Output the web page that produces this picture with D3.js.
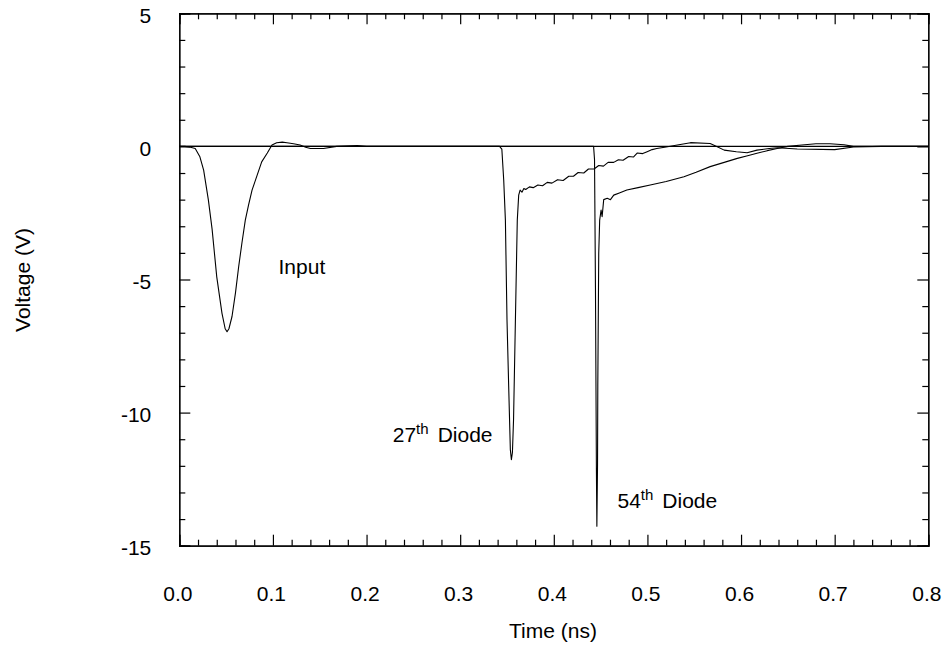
<!DOCTYPE html>
<html>
<head>
<meta charset="utf-8">
<script src="https://cdn.jsdelivr.net/npm/d3@7"></script>
<style>
  html, body { margin: 0; padding: 0; background: #fff; }
  svg { display: block; }
  text { font-family: "Liberation Sans", Arial, Helvetica, sans-serif; fill: #000; }
</style>
</head>
<body>
<svg id="chart" width="946" height="648"></svg>
<script>
// ---- data ----
const xTicks = [0.0, 0.1, 0.2, 0.3, 0.4, 0.5, 0.6, 0.7, 0.8];
const xTickLabels = ["0.0", "0.1", "0.2", "0.3", "0.4", "0.5", "0.6", "0.7", "0.8"];
const yTicks = [5, 0, -5, -10, -15];
const yTickLabels = ["5", "0", "-5", "-10", "-15"];

const inputT = [0, 0.006, 0.012, 0.017, 0.022, 0.026, 0.031, 0.035, 0.040, 0.0456, 0.049, 0.051, 0.053, 0.0563, 0.060, 0.0634, 0.067, 0.0705, 0.074, 0.0777, 0.083, 0.088, 0.094, 0.099, 0.104, 0.110, 0.115, 0.122, 0.129, 0.135, 0.140, 0.154, 0.168, 0.190, 0.200, 0.800];
const inputV = [0, 0, -0.03, -0.08, -0.39, -0.89, -2.0, -3.1, -4.9, -6.27, -6.85, -6.96, -6.85, -6.39, -5.5, -4.52, -3.6, -2.77, -2.2, -1.64, -1.1, -0.58, -0.25, 0.05, 0.14, 0.16, 0.14, 0.1, 0.05, -0.03, -0.08, -0.08, 0, 0.03, 0, 0];

const d27T = [0, 0.342, 0.3445, 0.3465, 0.3483, 0.350, 0.3518, 0.3536, 0.3547, 0.3558, 0.357, 0.359, 0.361, 0.3625, 0.364, 0.366, 0.368, 0.370, 0.374, 0.378, 0.383, 0.388, 0.393, 0.398, 0.404, 0.410, 0.416, 0.421, 0.426, 0.432, 0.437, 0.443, 0.448, 0.453, 0.458, 0.464, 0.469, 0.474, 0.480, 0.485, 0.489, 0.495, 0.4997, 0.505, 0.510, 0.520, 0.532, 0.546, 0.567, 0.574, 0.582, 0.595, 0.6065, 0.617, 0.630, 0.639, 0.660, 0.700, 0.720, 0.750, 0.800];
const d27V = [0, 0, -0.1, -1.26, -2.77, -6.5, -9.0, -11.4, -11.77, -11.5, -10.27, -6.5, -2.77, -1.83, -1.64, -1.72, -1.58, -1.62, -1.52, -1.55, -1.45, -1.48, -1.35, -1.38, -1.25, -1.28, -1.12, -1.12, -0.98, -1.0, -0.85, -0.85, -0.72, -0.74, -0.6, -0.6, -0.5, -0.52, -0.38, -0.4, -0.25, -0.27, -0.2, -0.12, -0.08, -0.02, 0.05, 0.14, 0.11, 0, -0.14, -0.2, -0.24, -0.14, -0.08, -0.05, -0.1, -0.12, -0.02, 0, 0];

const d54T = [0, 0.4425, 0.4435, 0.4445, 0.4455, 0.4460, 0.4467, 0.447, 0.448, 0.449, 0.4505, 0.4516, 0.4533, 0.4571, 0.4605, 0.464, 0.470, 0.478, 0.490, 0.503, 0.520, 0.539, 0.552, 0.567, 0.582, 0.596, 0.607, 0.617, 0.628, 0.6386, 0.650, 0.665, 0.680, 0.695, 0.710, 0.720, 0.800];
const d54V = [0, 0, -0.5, -5.3, -12.1, -14.27, -12.0, -9.0, -4.0, -2.77, -2.39, -2.64, -2.0, -1.95, -2.0, -1.83, -1.75, -1.64, -1.55, -1.45, -1.32, -1.14, -0.97, -0.76, -0.6, -0.45, -0.35, -0.26, -0.16, -0.08, 0, 0.05, 0.1, 0.1, 0.06, 0, 0];

const labels = [
  {t: 0.106, v: -4.8, main: "Input", sup: ""},
  {t: 0.228, v: -11.09, main: "27", sup: "th", rest: "Diode"},
  {t: 0.468, v: -13.6, main: "54", sup: "th", rest: "Diode"}
];

// ---- layout ----
const svg = d3.select("#chart");
const L = 179.3, R = 928.3, T = 13.3, B = 545.7;
const FS = 21;

const x = d3.scaleLinear().domain([0, 0.8]).range([L, R]);
const y = d3.scaleLinear().domain([-15, 5]).range([B, T]);

const xMinor = d3.range(0, 0.8001, 0.02).filter(v => Math.abs(Math.round(v * 10) - v * 10) > 1e-6);
const yMinor = d3.range(-15, 5.001, 1).filter(v => v % 5 !== 0);

function styleAxis(g) {
  g.selectAll("path.domain").attr("stroke", "#000").attr("stroke-width", 1.2);
  g.selectAll(".tick line").attr("stroke", "#000").attr("stroke-width", 1.2);
  g.selectAll("text").attr("font-size", FS).attr("fill", "#000")
    .attr("font-family", '"Liberation Sans", Arial, Helvetica, sans-serif');
}

// bottom axis with labels
const gB = svg.append("g").attr("transform", `translate(0,${B})`)
  .call(d3.axisBottom(x).tickValues(xTicks).tickFormat((d, i) => xTickLabels[i]).tickSize(-11).tickPadding(40));
styleAxis(gB);
gB.selectAll("text").attr("dx", -2);
svg.append("g").attr("transform", `translate(0,${B})`)
  .call(d3.axisBottom(x).tickValues(xMinor).tickFormat("").tickSize(-6)).call(styleAxis);

// top axis
svg.append("g").attr("transform", `translate(0,${T})`)
  .call(d3.axisTop(x).tickValues(xTicks).tickFormat("").tickSize(-11)).call(styleAxis);
svg.append("g").attr("transform", `translate(0,${T})`)
  .call(d3.axisTop(x).tickValues(xMinor).tickFormat("").tickSize(-6)).call(styleAxis);

// left axis with labels
const gL = svg.append("g").attr("transform", `translate(${L},0)`)
  .call(d3.axisLeft(y).tickValues(yTicks).tickFormat((d, i) => yTickLabels[i]).tickSize(-11).tickPadding(28));
styleAxis(gL);
gL.selectAll("text").attr("dy", "0.42em");
svg.append("g").attr("transform", `translate(${L},0)`)
  .call(d3.axisLeft(y).tickValues(yMinor).tickFormat("").tickSize(-6)).call(styleAxis);

// right axis
svg.append("g").attr("transform", `translate(${R},0)`)
  .call(d3.axisRight(y).tickValues(yTicks).tickFormat("").tickSize(-11)).call(styleAxis);
svg.append("g").attr("transform", `translate(${R},0)`)
  .call(d3.axisRight(y).tickValues(yMinor).tickFormat("").tickSize(-6)).call(styleAxis);

// traces
const line = d3.line().x(d => x(d[0])).y(d => y(d[1]));
[[inputT, inputV], [d27T, d27V], [d54T, d54V]].forEach(([ts, vs]) => {
  svg.append("path")
    .attr("d", line(ts.map((t, i) => [t, vs[i]])))
    .attr("fill", "none").attr("stroke", "#000").attr("stroke-width", 1.1)
    .attr("stroke-linejoin", "round");
});

// annotations
labels.forEach(l => {
  const t = svg.append("text").attr("x", x(l.t)).attr("y", y(l.v)).attr("font-size", FS);
  t.append("tspan").text(l.main);
  if (l.sup) {
    t.append("tspan").attr("font-size", 15).attr("dy", -8).text(l.sup);
    t.append("tspan").attr("dy", 8).attr("dx", 9).text(l.rest);
  }
});

// axis titles
svg.append("text").attr("x", 553).attr("y", 638).attr("text-anchor", "middle")
  .attr("font-size", FS).text("Time (ns)");
svg.append("text").attr("transform", "translate(30,280) rotate(-90)").attr("text-anchor", "middle")
  .attr("font-size", FS).text("Voltage (V)");
</script>
</body>
</html>
